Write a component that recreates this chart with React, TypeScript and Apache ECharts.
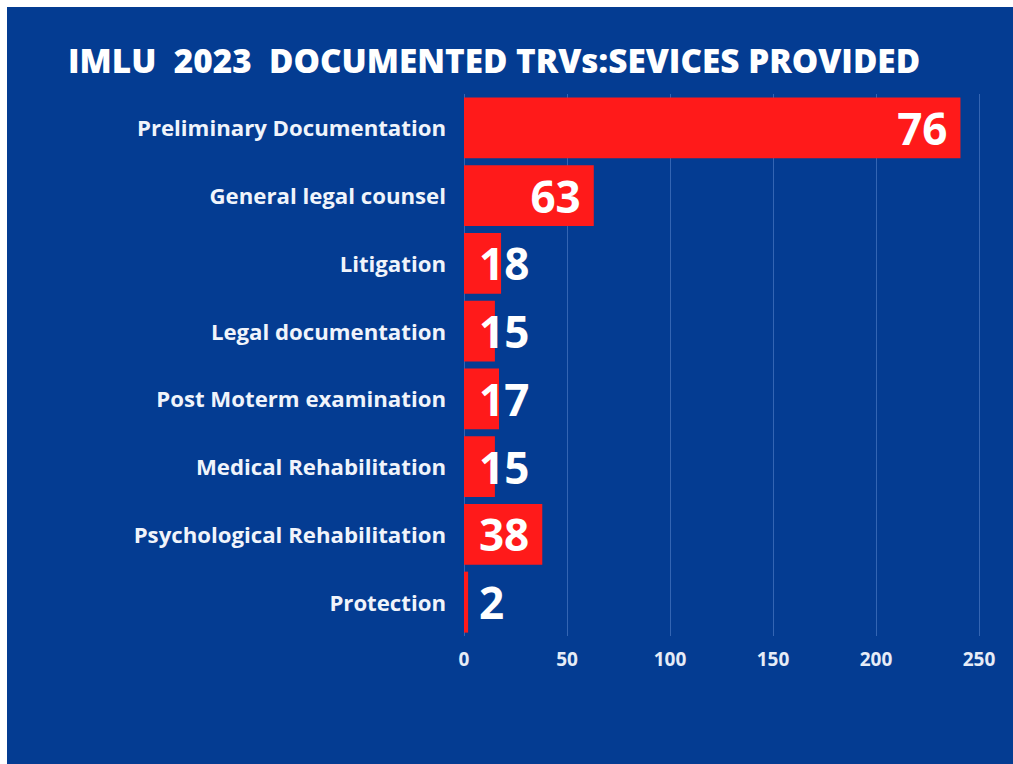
import React, { useEffect, useRef } from "react";
import * as echarts from "echarts";

const titleText = "IMLU  2023  DOCUMENTED TRVs:SEVICES PROVIDED";
const categories = [
  "Preliminary Documentation",
  "General legal counsel",
  "Litigation",
  "Legal documentation",
  "Post Moterm examination",
  "Medical Rehabilitation",
  "Psychological Rehabilitation",
  "Protection",
];
// bar lengths as drawn in the reference
const barValues = [241, 63, 18, 15, 17, 15, 38, 2];
// numbers printed on the bars
const labelValues = [76, 63, 18, 15, 17, 15, 38, 2];
const axisMin = 0;
const axisMax = 250;
const axisInterval = 50;

export default function App() {
  const ref = useRef<HTMLDivElement>(null);
  useEffect(() => {
    if (!ref.current) return;
    const chart = echarts.init(ref.current, null, { renderer: "svg" });
    const data = barValues.map((v) => {
      const inside = v >= 30;
      return {
        value: v,
        label: inside
          ? { position: "insideRight", distance: 13 }
          : { position: "insideLeft", distance: 15 },
      };
    });
    chart.setOption({
      animation: false,
      backgroundColor: "transparent",
      title: {
        text: titleText,
        left: 63,
        top: 38,
        textStyle: {
          color: "#ffffff",
          fontFamily: "Open Sans",
          fontWeight: 800,
          fontSize: 33.3,
        },
      },
      grid: { left: 464, right: 34, top: 94, bottom: 128, containLabel: false },
      xAxis: {
        type: "value",
        min: axisMin,
        max: axisMax,
        interval: axisInterval,
        axisLine: { show: false },
        axisTick: { show: false },
        splitLine: { show: true, lineStyle: { color: "rgba(110,150,220,0.45)", width: 1 } },
        axisLabel: {
          color: "#e6ecf7",
          fontFamily: "Open Sans",
          fontWeight: "bold",
          fontSize: 19,
          margin: 13,
        },
      },
      yAxis: {
        type: "category",
        data: categories,
        inverse: true,
        axisLine: { show: false },
        axisTick: { show: false },
        splitLine: { show: false },
        axisLabel: {
          color: "#f0f4fb",
          fontFamily: "Open Sans",
          fontWeight: "bold",
          fontSize: 22.2,
          margin: 18,
        },
      },
      series: [
        {
          type: "bar",
          data,
          barCategoryGap: "10%",
          itemStyle: { color: "#ff1a1a" },
          label: {
            show: true,
            color: "#ffffff",
            fontFamily: "Open Sans",
            fontWeight: "bold",
            fontSize: 44,
            formatter: (p: any) => String(labelValues[p.dataIndex]),
          },
        },
      ],
    });
    return () => chart.dispose();
  }, []);
  return (
    <div style={{ position: "fixed", left: 0, top: 0, width: 1013, height: 764, background: "#ffffff" }}>
      <div style={{ position: "absolute", left: 7, top: 7, width: 1006, height: 757, background: "#043c92" }} />
      <div ref={ref} style={{ position: "absolute", left: 0, top: 0, width: 1013, height: 764 }} />
    </div>
  );
}
